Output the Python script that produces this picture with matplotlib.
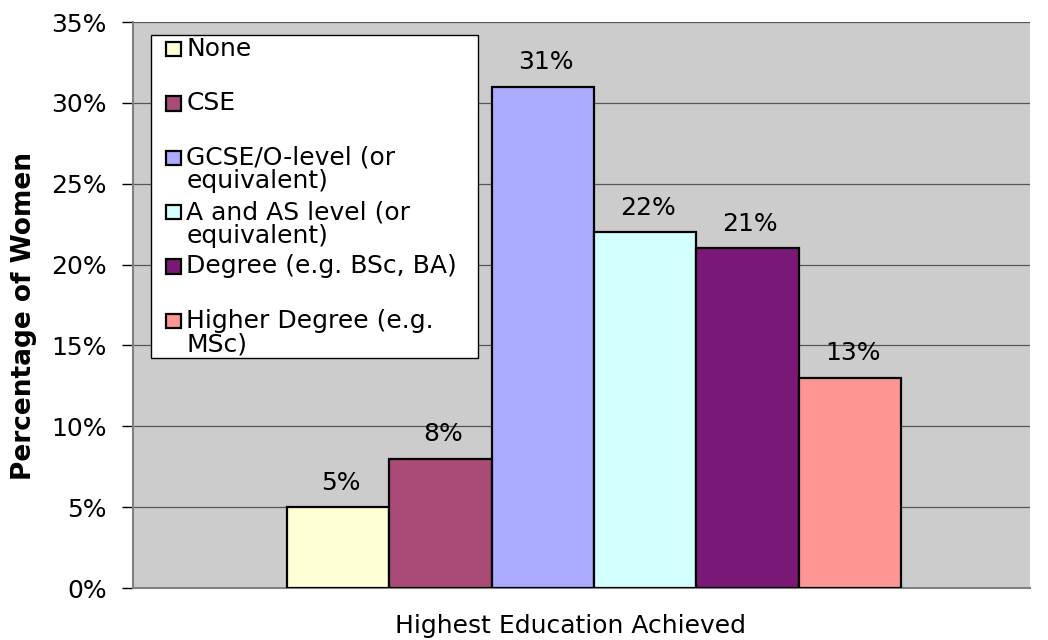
import matplotlib
matplotlib.use("Agg")
import matplotlib.pyplot as plt
from matplotlib.patches import Rectangle
from matplotlib.legend_handler import HandlerPatch
from matplotlib.ticker import FuncFormatter, MultipleLocator

categories = ["None", "CSE", "GCSE/O-level (or\nequivalent)", "A and AS level (or\nequivalent)",
              "Degree (e.g. BSc, BA)", "Higher Degree (e.g.\nMSc)"]
values = [5, 8, 31, 22, 21, 13]
colors = ["#FFFFD5", "#AA4A77", "#AAAAFF", "#D4FFFF", "#7A1877", "#FF9694"]
x_title = "Highest Education Achieved"
y_title = "Percentage of Women"

FS = 18
plt.rcParams['font.family'] = ['DejaVu Sans']

fig = plt.figure(figsize=(10.48, 6.4), dpi=100)
ax = fig.add_axes([133/1048, 52/640, 897/1048, 566/640])
ax.set_facecolor("#CCCCCC")

xs = list(range(len(values)))
bars = ax.bar(xs, values, width=1.0, color=colors, edgecolor="black", linewidth=1.6,
              label=categories, zorder=3)
for xi, v in zip(xs, values):
    ax.annotate(f"{v}%", (xi, v), xytext=(2, 9), textcoords="offset points",
                ha="center", va="bottom", fontsize=FS, zorder=4)

ax.set_xlim(-2.005, 6.76)
ax.set_ylim(0, 35)
ax.yaxis.set_major_locator(MultipleLocator(5))
ax.yaxis.set_major_formatter(FuncFormatter(lambda v, p: f"{int(round(v))}%"))
ax.grid(axis="y", color="#555555", linewidth=0.9, zorder=1)
ax.set_xticks([])
for s in ["top", "right"]:
    ax.spines[s].set_visible(False)
ax.spines["left"].set_color("#808080")
ax.spines["left"].set_linewidth(1.5)
ax.spines["bottom"].set_color("#808080")
ax.spines["bottom"].set_linewidth(1.5)
ax.tick_params(axis="y", direction="out", length=8, width=1, color="black",
               labelsize=FS, pad=11)
ax.set_ylabel(y_title, fontsize=19, fontweight="bold")
ax.yaxis.set_label_coords(-0.107, 0.4806)
ax.set_xlabel(x_title, fontsize=FS)
ax.xaxis.set_label_coords(0.488, -0.046)

SQ = 10.3  # square size in points


class TopHandler(HandlerPatch):
    def __init__(self, dy):
        super().__init__()
        self.dy = dy

    def create_artists(self, legend, orig_handle, xdescent, ydescent, width, height, fontsize, trans):
        x0 = -xdescent + width - SQ
        y0 = -ydescent + height / 2 - SQ / 2 + self.dy
        p = Rectangle((x0, y0), SQ, SQ,
                      facecolor=orig_handle.get_facecolor(), edgecolor="black", linewidth=1.6)
        p.set_transform(trans)
        return [p]


labels = [c if "\n" in c else c + "\n " for c in categories]
handles = list(bars.patches)
hmap = {h: TopHandler(9.0) for h in handles}
leg = ax.legend(handles, labels, handler_map=hmap, loc="upper left",
                bbox_to_anchor=(151/1048, (640-367)/640, (478-151)/1048, (367-35)/640),
                bbox_transform=fig.transFigure, mode="expand",
                fontsize=FS, frameon=True, fancybox=False, edgecolor="black",
                framealpha=1, borderpad=0.08, handlelength=1.1, handleheight=0.6,
                handletextpad=0.24, labelspacing=0.27, borderaxespad=0)
leg.get_frame().set_linewidth(1.0)
for t in leg.get_texts():
    t.set_linespacing(0.98)
leg.set_zorder(5)

fig.savefig("out.png", dpi=100)
